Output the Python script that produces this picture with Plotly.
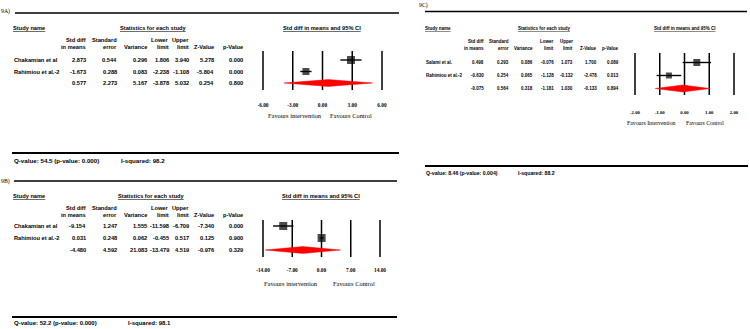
import plotly.graph_objects as go

# ---------------- data ----------------
# Panel 9A
studies_A = ["Chakamian et al", "Rahimiou et al.-2", ""]
smd_A = [2.873, -1.673, 0.577]
se_A = [0.544, 0.288, 2.273]
var_A = [0.296, 0.083, 5.167]
lower_A = [1.806, -2.238, -3.878]
upper_A = [3.940, -1.108, 5.032]
z_A = [5.278, -5.804, 0.254]
p_A = [0.000, 0.000, 0.800]
ticks_A = [-6, -3, 0, 3, 6]
ticklabels_A = ["-6.00", "-3.00", "0.00", "3.00", "6.00"]
q_A = "Q-value: 54.5 (p-value: 0.000)"
i2_A = "I-squared: 98.2"
fav_A = ["Favours intervention", "Favours Control"]

# Panel 9B
studies_B = ["Chakamian et al", "Rahimiou et al.-2", ""]
smd_B = [-9.154, 0.031, -4.480]
se_B = [1.247, 0.248, 4.592]
var_B = [1.555, 0.062, 21.083]
lower_B = [-11.598, -0.455, -13.479]
upper_B = [-6.709, 0.517, 4.519]
z_B = [-7.340, 0.125, -0.976]
p_B = [0.000, 0.900, 0.329]
ticks_B = [-14, -7, 0, 7, 14]
ticklabels_B = ["-14.00", "-7.00", "0.00", "7.00", "14.00"]
q_B = "Q-value: 52.2 (p-value: 0.000)"
i2_B = "I-squared: 98.1"
fav_B = ["Favours intervention", "Favours Control"]

# Panel 9C
studies_C = ["Salami et al.", "Rahimiou et al.-2", ""]
smd_C = [0.498, -0.630, -0.075]
se_C = [0.293, 0.254, 0.564]
var_C = [0.086, 0.065, 0.318]
lower_C = [-0.076, -1.128, -1.181]
upper_C = [1.073, -0.132, 1.030]
z_C = [1.700, -2.478, -0.133]
p_C = [0.089, 0.013, 0.894]
ticks_C = [-2, -1, 0, 1, 2]
ticklabels_C = ["-2.00", "-1.00", "0.00", "1.00", "2.00"]
q_C = "Q-value: 8.46 (p-value: 0.004)"
i2_C = "I-squared: 88.2"
fav_C = ["Favours Intervention", "Favours Control"]

col_headers = [("Std diff", "in means"), ("Standard", "error"), ("", "Variance"),
               ("Lower", "limit"), ("Upper", "limit"), ("", "Z-Value"), ("", "p-Value")]

# ---------------- layout helpers ----------------
W, H = 750, 329
SANS = "Liberation Sans"
SERIF = "Liberation Serif"


def px(x):
    return x / W


def py(y):
    return 1 - y / H


annotations = []
shapes = []


def txt(x, y, s, size=6, anchor="left", family=SANS, bold=True, underline=False):
    t = s
    if underline:
        t = '<span style="text-decoration:underline">%s</span>' % t
    if bold:
        t = "<b>%s</b>" % t
    annotations.append(dict(x=px(x), y=py(y), xref="paper", yref="paper", text=t,
                            showarrow=False, xanchor=anchor, yanchor="middle",
                            borderpad=0, font=dict(family=family, size=size, color="black")))


def hline(x0, x1, y, w=1.5):
    shapes.append(dict(type="line", xref="paper", yref="paper", x0=px(x0), x1=px(x1),
                       y0=py(y), y1=py(y), line=dict(color="black", width=w)))


fig = go.Figure()

panels = [
    dict(key="", label="9A)", label_xy=(0, 11), studies=studies_A, smd=smd_A, se=se_A, var=var_A,
         lo=lower_A, hi=upper_A, z=z_A, p=p_A, ticks=ticks_A, ticklabels=ticklabels_A,
         q=q_A, i2=i2_A, fav=fav_A,
         name_x=12, stat_x=119, ci_x=322, head_y=28, hdr_y=(40, 47), rows_y=(60, 71.5, 83),
         cols=[87, 118, 148, 170, 190, 215, 244], fs=5.7,
         dom_x=(258, 387), tick_px=(263, 382), dom_y=(51, 90), standoff=11,
         fav_x=(295, 351), fav_y=115, q_xy=(13, 161), i2_x=120, qfs=6.2, ffs=6.4, tfs=5.3,
         sq=[8, 7], top_line=(15, 399, 13), bot_line=(12, 399, 153)),
    dict(key="2", label="9B)", label_xy=(0, 181), studies=studies_B, smd=smd_B, se=se_B, var=var_B,
         lo=lower_B, hi=upper_B, z=z_B, p=p_B, ticks=ticks_B, ticklabels=ticklabels_B,
         q=q_B, i2=i2_B, fav=fav_B,
         name_x=12, stat_x=117, ci_x=321, head_y=196, hdr_y=(208, 215), rows_y=(226, 238, 250),
         cols=[87, 118, 148, 170, 190, 215, 244], fs=5.7,
         dom_x=(255, 388), tick_px=(263, 380), dom_y=(220, 257), standoff=9,
         fav_x=(291, 354), fav_y=283, q_xy=(13, 322.5), i2_x=127, qfs=6.0, ffs=6.4, tfs=5.3,
         sq=[8, 8], top_line=(14, 397, 181), bot_line=(12, 397, 317)),
    dict(key="3", label="9C)", label_xy=(418, 6), studies=studies_C, smd=smd_C, se=se_C, var=var_C,
         lo=lower_C, hi=upper_C, z=z_C, p=p_C, ticks=ticks_C, ticklabels=ticklabels_C,
         q=q_C, i2=i2_C, fav=fav_C,
         name_x=424, stat_x=517, ci_x=685, head_y=28, hdr_y=(41, 48.5), rows_y=(62.5, 75.5, 88.5),
         cols=[485, 510, 534, 555, 574, 598, 620], fs=4.5,
         dom_x=(628, 741), tick_px=(635, 734), dom_y=(53, 95), standoff=13,
         fav_x=(651, 705), fav_y=123, q_xy=(425, 173), i2_x=517, qfs=5.2, ffs=5.8, tfs=4.8,
         sq=[7, 6], top_line=(425, 747, 11.5), bot_line=(425, 748, 166)),
]

layout_axes = {}
for P in panels:
    k = P["key"]
    fs = P["fs"]
    # section label and rules
    txt(P["label_xy"][0], P["label_xy"][1], P["label"], size=5.8, family=SERIF, bold=False)
    hline(*P["top_line"], w=1.5)
    hline(*P["bot_line"], w=2)
    # headers
    txt(P["name_x"], P["head_y"], "Study name", size=fs, underline=True)
    txt(P["stat_x"], P["head_y"], "Statistics for each study", size=fs, underline=True)
    txt(P["ci_x"], P["head_y"], "Std diff in means and 95% CI", size=fs,
        anchor="center", underline=True)
    for (l1, l2), cx in zip(col_headers, P["cols"]):
        if l1:
            txt(cx, P["hdr_y"][0], l1, size=fs, anchor="right")
        txt(cx, P["hdr_y"][1], l2, size=fs, anchor="right")
    # table rows
    for i, ry in enumerate(P["rows_y"]):
        if P["studies"][i]:
            txt(P["name_x"] + 1, ry, P["studies"][i], size=fs)
        vals = [P["smd"][i], P["se"][i], P["var"][i], P["lo"][i], P["hi"][i], P["z"][i], P["p"][i]]
        for v, cx in zip(vals, P["cols"]):
            txt(cx, ry, "%.3f" % v, size=fs, anchor="right")
    # favours + Q
    txt(P["fav_x"][0], P["fav_y"], P["fav"][0], size=P["ffs"], family=SERIF, anchor="center", bold=False)
    txt(P["fav_x"][1], P["fav_y"], P["fav"][1], size=P["ffs"], family=SERIF, anchor="center", bold=False)
    txt(P["q_xy"][0], P["q_xy"][1], P["q"], size=P["qfs"])
    txt(P["i2_x"], P["q_xy"][1], P["i2"], size=P["qfs"])

    # axes geometry (layout only)
    t0, t1 = P["ticks"][0], P["ticks"][-1]
    p0, p1 = P["tick_px"]
    scale = (p1 - p0) / (t1 - t0)
    L, R = P["dom_x"]
    xr = [t0 - (p0 - L) / scale, t0 + (R - p0) / scale]
    r0, r2 = P["rows_y"][0], P["rows_y"][-1]
    sp = (r2 - r0) / 2
    top, bot = P["dom_y"]
    yr = [(bot - r0) / sp, (top - r0) / sp]
    half_h = 3.4 / sp

    xa, ya = "x" + k, "y" + k
    layout_axes["xaxis" + k] = dict(domain=[px(L), px(R)], range=xr, anchor=ya,
                                    tickvals=P["ticks"], ticktext=["<b>%s</b>" % t for t in P["ticklabels"]],
                                    showgrid=False, zeroline=False, showline=False, ticks="",
                                    ticklabelstandoff=P["standoff"],
                                    tickfont=dict(family=SERIF, size=P["tfs"], color="black"))
    layout_axes["yaxis" + k] = dict(domain=[py(bot), py(top)], range=yr, anchor=xa,
                                    showgrid=False, zeroline=False, showticklabels=False,
                                    showline=False, ticks="")
    # vertical reference lines at every tick value
    for tv in P["ticks"]:
        shapes.append(dict(type="line", xref=xa, yref=ya + " domain", x0=tv, x1=tv, y0=0, y1=1,
                           layer="below", line=dict(color="black", width=1.5)))

    # study squares with CI whiskers
    est = P["smd"][:2]
    fig.add_trace(go.Scatter(
        x=est, y=[0, 1], xaxis=xa, yaxis=ya, mode="markers",
        marker=dict(symbol="square", size=P["sq"], color="black", line=dict(width=0)),
        error_x=dict(type="data", symmetric=False,
                     array=[h - e for h, e in zip(P["hi"][:2], est)],
                     arrayminus=[e - l for e, l in zip(est, P["lo"][:2])],
                     color="black", thickness=1.4, width=0),
        showlegend=False, hoverinfo="skip"))
    # pooled diamond
    lo, m, hi = P["lo"][2], P["smd"][2], P["hi"][2]
    fig.add_trace(go.Scatter(
        x=[lo, m, hi, m, lo], y=[2, 2 - half_h, 2, 2 + half_h, 2], xaxis=xa, yaxis=ya,
        mode="lines", fill="toself", fillcolor="#ff0000", line=dict(color="#ff0000", width=0.5),
        showlegend=False, hoverinfo="skip"))

fig.update_layout(width=W, height=H, margin=dict(l=0, r=0, t=0, b=0),
                  paper_bgcolor="white", plot_bgcolor="white", hovermode=False,
                  annotations=annotations, shapes=shapes, **layout_axes)

fig.write_html("out.html", config={"displayModeBar": False, "staticPlot": True},
               post_script="document.body.style.margin='0px';document.body.style.overflow='hidden';")
